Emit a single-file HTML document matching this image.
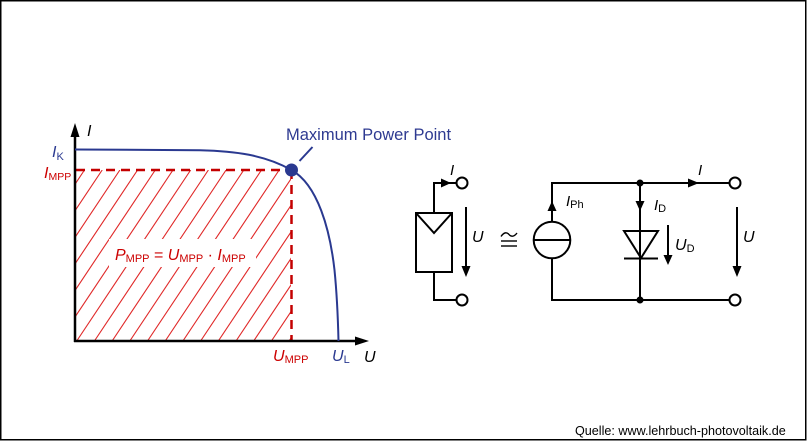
<!DOCTYPE html>
<html>
<head>
<meta charset="utf-8">
<style>
html,body{margin:0;padding:0;background:#fff;}
svg{display:block;}
text{font-family:"Liberation Sans",Arial,sans-serif;}
</style>
</head>
<body>
<svg width="807" height="447" viewBox="0 0 807 447" xmlns="http://www.w3.org/2000/svg">
<rect x="0" y="0" width="807" height="447" fill="#fff"/>
<rect x="0.75" y="0.75" width="805" height="439" fill="none" stroke="#000" stroke-width="1.5"/>

<defs>
<clipPath id="hc"><rect x="75" y="170" width="216" height="171"/></clipPath>
</defs>

<!-- hatching -->
<g clip-path="url(#hc)" stroke="#e02828" stroke-width="1.1">
<line x1="-29.5" y1="341" x2="84.5" y2="170"/>
<line x1="-11.8" y1="341" x2="102.2" y2="170"/>
<line x1="5.9" y1="341" x2="119.9" y2="170"/>
<line x1="23.6" y1="341" x2="137.6" y2="170"/>
<line x1="41.3" y1="341" x2="155.3" y2="170"/>
<line x1="59" y1="341" x2="173" y2="170"/>
<line x1="76.7" y1="341" x2="190.7" y2="170"/>
<line x1="94.4" y1="341" x2="208.4" y2="170"/>
<line x1="112.1" y1="341" x2="226.1" y2="170"/>
<line x1="129.8" y1="341" x2="243.8" y2="170"/>
<line x1="147.5" y1="341" x2="261.5" y2="170"/>
<line x1="165.2" y1="341" x2="279.2" y2="170"/>
<line x1="182.9" y1="341" x2="296.9" y2="170"/>
<line x1="200.6" y1="341" x2="314.6" y2="170"/>
<line x1="218.3" y1="341" x2="332.3" y2="170"/>
<line x1="236" y1="341" x2="350" y2="170"/>
<line x1="253.7" y1="341" x2="367.7" y2="170"/>
<line x1="271.4" y1="341" x2="385.4" y2="170"/>
<line x1="289.1" y1="341" x2="403.1" y2="170"/>
</g>
<rect x="109" y="239" width="147" height="28" fill="#fff"/>

<!-- dashed MPP lines -->
<g stroke="#c40000" stroke-width="2.5" stroke-dasharray="9,6" fill="none">
<line x1="76" y1="170" x2="291.5" y2="170"/>
<line x1="291.5" y1="170" x2="291.5" y2="341"/>
</g>

<!-- axes -->
<g stroke="#000" stroke-width="2.5">
<line x1="75" y1="342" x2="75" y2="134"/>
<line x1="74" y1="341" x2="357" y2="341"/>
</g>
<polygon points="75,123 70.5,137 79.5,137" fill="#000"/>
<polygon points="369,341 355,336.5 355,345.5" fill="#000"/>

<!-- IV curve -->
<path d="M75,149.5 L200,150.2 C235,151 265,155 291.5,170 C318,185 330,230 334.5,270 C337,295 338,320 338.5,341" fill="none" stroke="#2a3990" stroke-width="2"/>
<circle cx="291.5" cy="170" r="6.5" fill="#2a3990"/>
<line x1="299.5" y1="161" x2="312.5" y2="147" stroke="#2a3990" stroke-width="2"/>
<text x="286" y="140" font-size="16.5" fill="#2e3a91">Maximum Power Point</text>

<!-- graph labels -->
<text x="87" y="136" font-size="16" font-style="italic" fill="#000">I</text>
<text x="52" y="157" font-size="16" font-style="italic" fill="#2a3990">I<tspan font-style="normal" font-size="11" dy="3">K</tspan></text>
<text x="44" y="178" font-size="16" font-style="italic" fill="#cc0000">I<tspan font-style="normal" font-size="10.5" dy="2">MPP</tspan></text>
<text x="115" y="260" font-size="16" fill="#cc0000"><tspan font-style="italic">P</tspan><tspan font-size="11" dy="2">MPP</tspan><tspan dy="-2"> = </tspan><tspan font-style="italic">U</tspan><tspan font-size="11" dy="2">MPP</tspan><tspan dy="-2"> · </tspan><tspan font-style="italic">I</tspan><tspan font-size="11" dy="2">MPP</tspan></text>
<text x="273" y="361" font-size="16" font-style="italic" fill="#cc0000">U<tspan font-style="normal" font-size="11" dy="2">MPP</tspan></text>
<text x="332" y="361" font-size="16" font-style="italic" fill="#2a3990">U<tspan font-style="normal" font-size="11" dy="2">L</tspan></text>
<text x="364" y="362" font-size="16" font-style="italic" fill="#000">U</text>

<!-- left circuit: solar module -->
<g stroke="#000" stroke-width="2" fill="none">
<rect x="416" y="213" width="36" height="59"/>
<polyline points="416,213 434,233 452,213"/>
<polyline points="434,213 434,183 456.5,183"/>
<polyline points="434,272 434,300 456.5,300"/>
<circle cx="462" cy="183" r="5.5" fill="#fff"/>
<circle cx="462" cy="300" r="5.5" fill="#fff"/>
<line x1="466" y1="207" x2="466" y2="267"/>
</g>
<polygon points="451,183 441,178.5 441,187.5" fill="#000"/>
<polygon points="466,277 461.5,266 470.5,266" fill="#000"/>
<text x="450" y="175" font-size="15" font-style="italic" fill="#000">I</text>
<text x="472" y="242" font-size="16" font-style="italic" fill="#000">U</text>

<!-- congruent symbol -->
<g stroke="#000" stroke-width="1.4" fill="none">
<path d="M501,236.5 C504,232 507,232 509,234.5 C511,237 514,237 517,233"/>
<line x1="501" y1="241" x2="517" y2="241"/>
<line x1="501" y1="246" x2="517" y2="246"/>
</g>

<!-- right circuit -->
<g stroke="#000" stroke-width="2" fill="none">
<line x1="552" y1="182" x2="552" y2="221.7"/>
<line x1="552" y1="258.3" x2="552" y2="301"/>
<circle cx="552" cy="240" r="18.3"/>
<line x1="534" y1="240" x2="570" y2="240"/>
<line x1="551" y1="183" x2="729.5" y2="183"/>
<line x1="551" y1="300" x2="729.5" y2="300"/>
<circle cx="735" cy="183" r="5.5" fill="#fff"/>
<circle cx="735" cy="300" r="5.5" fill="#fff"/>
<line x1="640" y1="183" x2="640" y2="300"/>
<polygon points="624,231 658,231 641,258"/>
<line x1="624" y1="258.5" x2="658" y2="258.5"/>
<line x1="668" y1="225" x2="668" y2="256"/>
<line x1="737" y1="207" x2="737" y2="267"/>
</g>
<circle cx="640" cy="183" r="3.5" fill="#000"/>
<circle cx="640" cy="300" r="3.5" fill="#000"/>
<polygon points="552,201 547.5,211 556.5,211" fill="#000"/>
<polygon points="699,183 688,178.5 688,187.5" fill="#000"/>
<polygon points="640,211 635.5,201 644.5,201" fill="#000"/>
<polygon points="668,265 663.5,255 672.5,255" fill="#000"/>
<polygon points="737,277 732.5,266 741.5,266" fill="#000"/>

<text x="698" y="175" font-size="15" font-style="italic" fill="#000">I</text>
<text x="566" y="206" font-size="15" font-style="italic" fill="#000">I<tspan font-style="normal" font-size="11" dy="2">Ph</tspan></text>
<text x="654" y="210" font-size="15" font-style="italic" fill="#000">I<tspan font-style="normal" font-size="11" dy="2">D</tspan></text>
<text x="675" y="250" font-size="16" font-style="italic" fill="#000">U<tspan font-style="normal" font-size="11" dy="2">D</tspan></text>
<text x="743" y="242" font-size="16" font-style="italic" fill="#000">U</text>

<!-- source -->
<text x="575" y="435" font-size="12.6" fill="#000">Quelle: www.lehrbuch-photovoltaik.de</text>
</svg>
</body>
</html>
